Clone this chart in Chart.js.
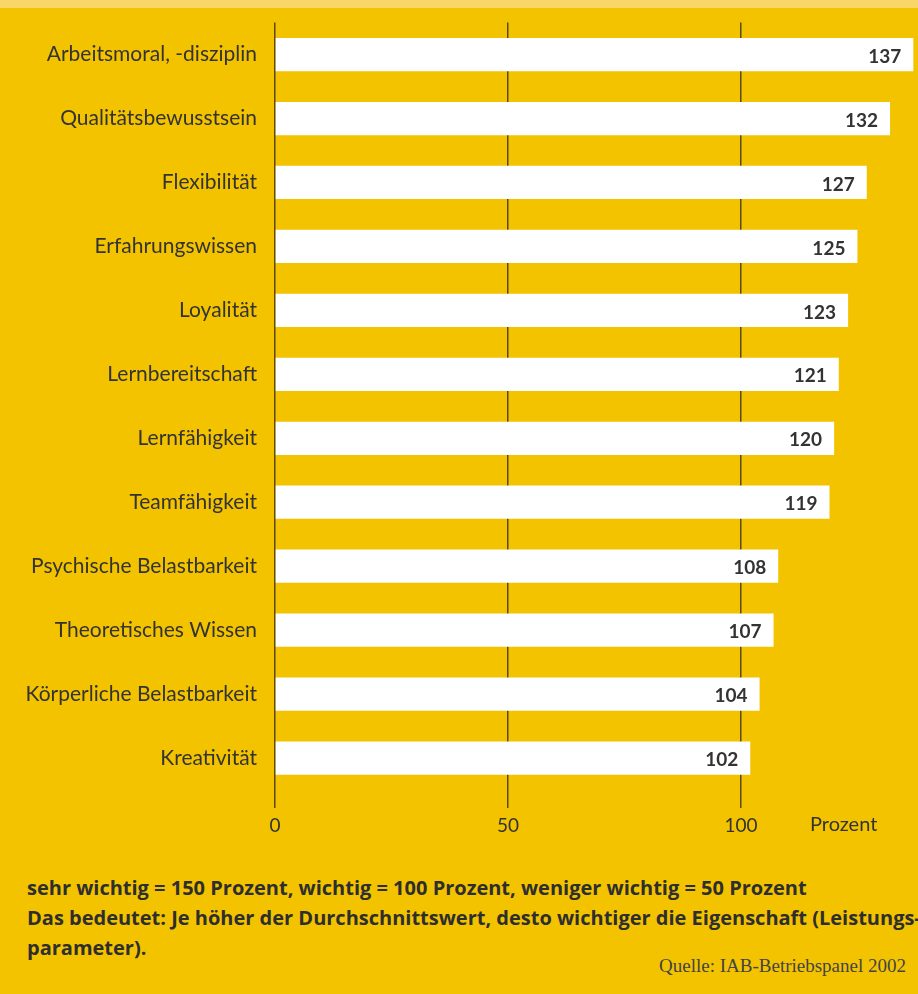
<!DOCTYPE html>
<html lang="de">
<head>
<meta charset="utf-8">
<script src="https://cdn.jsdelivr.net/npm/chart.js@4"></script>
<style>
    body { margin: 0; width: 918px; height: 994px; background: #f3c300; overflow: hidden; position: relative; font-family: Lato, sans-serif; }
    .band { position: absolute; left: 0; top: 0; width: 918px; height: 8px; background: #f8d668; }
    .chart-box { position: absolute; left: 0; top: 0; width: 918px; height: 850px; }
    .note { position: absolute; left: 27px; top: 873px; font-family: "Open Sans", sans-serif; font-weight: bold; font-size: 20px; line-height: 30px; color: #2e2e2e; white-space: nowrap; }
    .source { position: absolute; right: 12px; top: 955px; font-family: "Liberation Serif", serif; font-size: 19px; color: #444; }
</style>
</head>
<body>
<div class="band"></div>
<div class="chart-box"><canvas id="chart"></canvas></div>
<div class="note">
    sehr wichtig = 150 Prozent, wichtig = 100 Prozent, weniger wichtig = 50 Prozent<br>
    Das bedeutet: Je höher der Durchschnittswert, desto wichtiger die Eigenschaft (Leistungs-<br>
    parameter).
</div>
<div class="source">Quelle: IAB-Betriebspanel 2002</div>
<script>
const categories = [
    'Arbeitsmoral, -disziplin',
    'Qualitätsbewusstsein',
    'Flexibilität',
    'Erfahrungswissen',
    'Loyalität',
    'Lernbereitschaft',
    'Lernfähigkeit',
    'Teamfähigkeit',
    'Psychische Belastbarkeit',
    'Theoretisches Wissen',
    'Körperliche Belastbarkeit',
    'Kreativität'
];
const values = [137, 132, 127, 125, 123, 121, 120, 119, 108, 107, 104, 102];
const xTicks = [0, 50, 100];
const unitLabel = 'Prozent';

const lineColor = '#5a4816';
const textColor = '#333333';

// value labels inside the bar ends, plus the unit next to the last tick
const barLabels = {
    id: 'barLabels',
    afterDatasetsDraw(chart) {
        const ctx = chart.ctx;
        const meta = chart.getDatasetMeta(0);
        ctx.save();
        ctx.font = 'bold 19px Lato, sans-serif';
        ctx.fillStyle = textColor;
        ctx.textAlign = 'right';
        ctx.textBaseline = 'middle';
        meta.data.forEach((bar, i) => {
            ctx.fillText(String(values[i]), bar.x - 12, bar.y + 2);
        });
        const xs = chart.scales.x;
        ctx.font = '20px Lato, sans-serif';
        ctx.textAlign = 'left';
        ctx.fillText(unitLabel, xs.getPixelForValue(100) + 69, chart.chartArea.bottom + 35);
        ctx.restore();
    }
};

new Chart(document.getElementById('chart'), {
    type: 'bar',
    data: {
        labels: categories,
        datasets: [{
            data: values,
            backgroundColor: '#ffffff',
            borderWidth: 0,
            categoryPercentage: 1,
            barPercentage: 0.52
        }]
    },
    options: {
        indexAxis: 'y',
        responsive: true,
        maintainAspectRatio: false,
        animation: false,
        layout: { padding: { top: 14, right: 0, bottom: 0, left: 0 } },
        plugins: {
            legend: { display: false },
            tooltip: { enabled: false }
        },
        scales: {
            x: {
                min: 0,
                max: 138,
                afterBuildTicks: scale => { scale.ticks = xTicks.map(v => ({ value: v })); },
                afterFit: scale => { scale.height = 60; },
                grid: { color: lineColor, lineWidth: 1.5, tickLength: 18, drawOnChartArea: true },
                border: { display: false },
                ticks: {
                    color: textColor,
                    font: { family: 'Lato', size: 19 },
                    padding: 6,
                    maxRotation: 0
                }
            },
            y: {
                afterFit: scale => { scale.width = 275; },
                grid: { display: false },
                border: { display: false },
                ticks: {
                    color: textColor,
                    font: { family: 'Lato', size: 21 },
                    padding: 10
                }
            }
        }
    },
    plugins: [barLabels]
});
</script>
</body>
</html>
